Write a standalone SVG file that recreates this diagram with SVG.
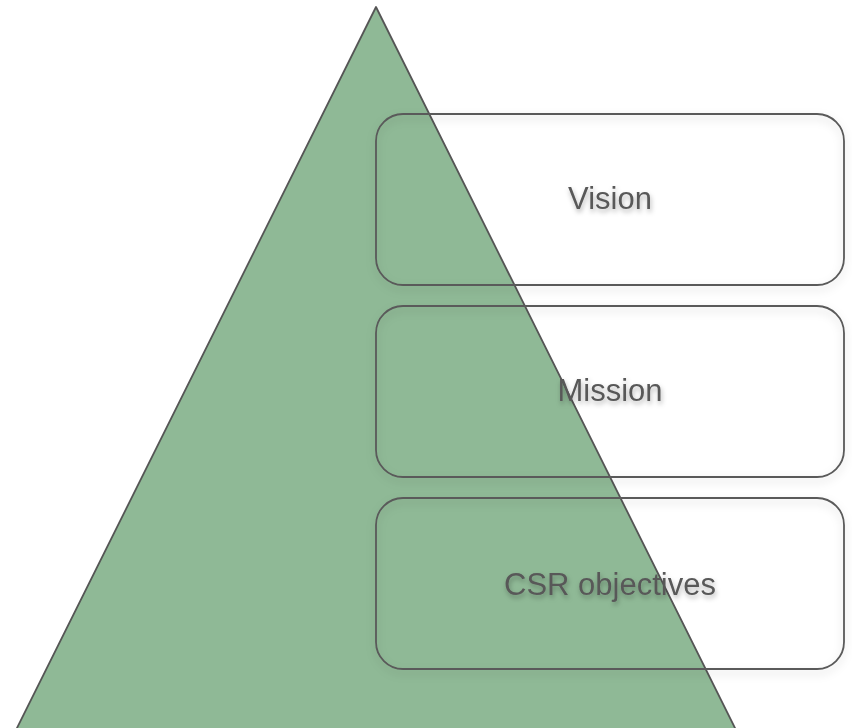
<svg xmlns="http://www.w3.org/2000/svg" width="852" height="728" viewBox="0 0 852 728">
<defs>
<filter id="sh" x="-10%" y="-10%" width="120%" height="130%">
<feDropShadow dx="0" dy="4" stdDeviation="4" flood-color="#000" flood-opacity="0.18"/>
</filter>
<filter id="tsh" x="-10%" y="-30%" width="120%" height="170%">
<feDropShadow dx="1" dy="3" stdDeviation="2.5" flood-color="#000" flood-opacity="0.3"/>
</filter>
</defs>
<style>
.tri{fill:#8fb996;stroke:#555;stroke-width:1.8;stroke-linejoin:round}
.box{fill:none;stroke:#5a5a5a;stroke-width:1.8}
.lbl{font-family:"Liberation Sans",Arial,sans-serif;font-size:31px;fill:#595959;text-anchor:middle;dominant-baseline:central}
</style>
<g id="pyramid"><polygon class="tri" points="376,7 736,730 16,730"/></g>
<g id="vision"><rect class="box" x="376" y="114" width="468" height="171" rx="27" filter="url(#sh)"/><text class="lbl" x="610" y="198" filter="url(#tsh)">Vision</text></g>
<g id="mission"><rect class="box" x="376" y="306" width="468" height="171" rx="27" filter="url(#sh)"/><text class="lbl" x="610" y="390" filter="url(#tsh)">Mission</text></g>
<g id="csr"><rect class="box" x="376" y="498" width="468" height="171" rx="27" filter="url(#sh)"/><text class="lbl" x="610" y="584" filter="url(#tsh)">CSR objectives</text></g>
<g id="connectors"/>
</svg>
